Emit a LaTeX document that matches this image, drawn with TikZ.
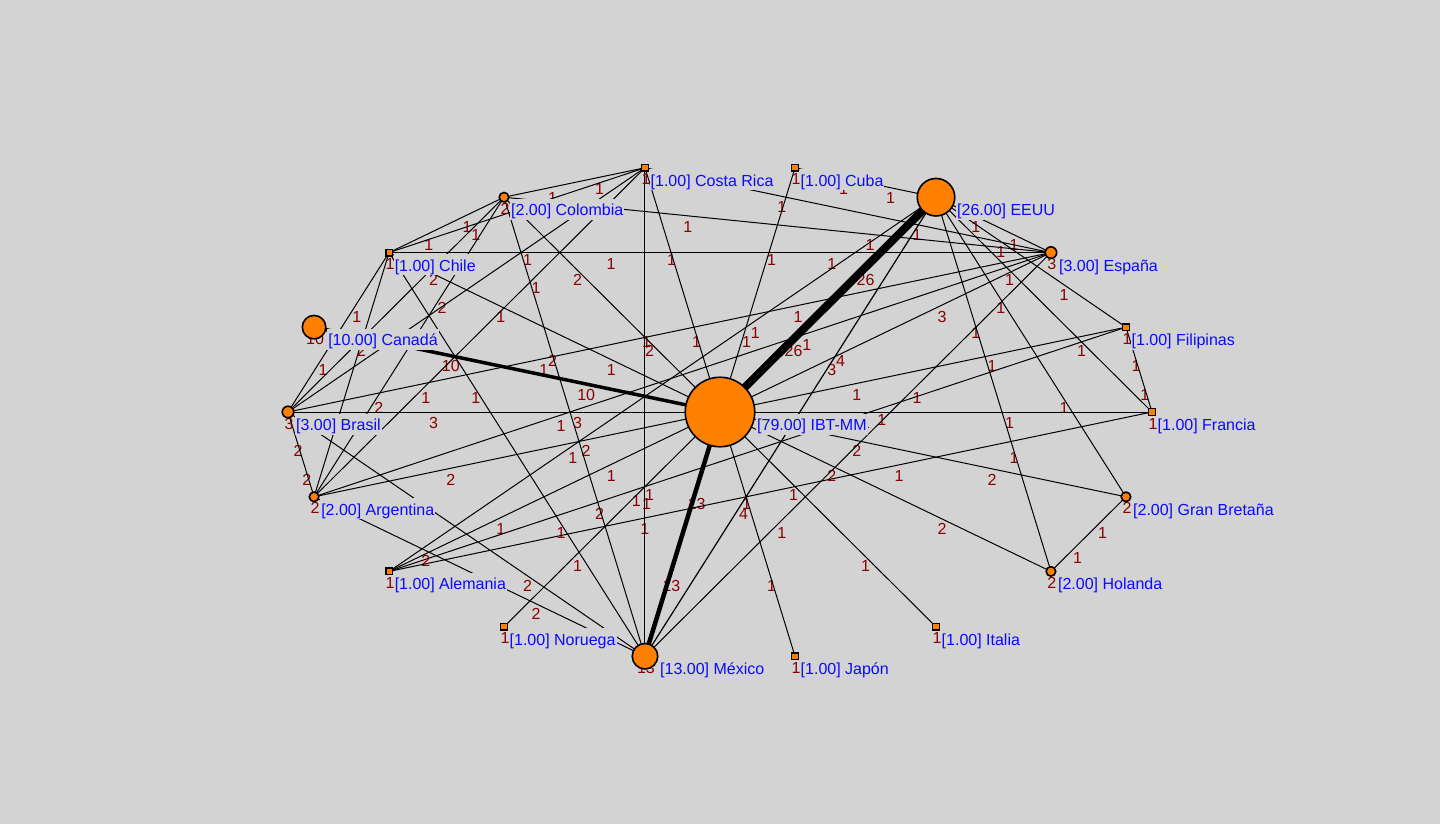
\documentclass[tikz,border=0pt]{standalone}
\usepackage{fontspec}
\setmainfont{Liberation Sans}
\usetikzlibrary{calc}
\definecolor{bg}{RGB}{211,211,211}
\definecolor{nodeorange}{RGB}{255,128,0}
\definecolor{valred}{RGB}{140,0,0}
\definecolor{labblue}{RGB}{10,10,255}
\newcommand{\labfont}{\fontsize{16}{19}\selectfont}
\tikzset{
  elab/.style={text=valred, font=\labfont, anchor=base, inner sep=0pt},
  vlab/.style={text=valred, font=\labfont, anchor=base, inner sep=0pt},
  nlab/.style={text=labblue, fill=bg, font=\labfont, anchor=base west, inner xsep=1pt, inner ysep=1pt, text height=16pt, text depth=3pt},
  edgeline/.style={draw=black, line cap=butt},
  bignode/.style={circle, draw=black, line width=1.6pt, fill=nodeorange, inner sep=0pt},
  smallnode/.style={rectangle, draw=black, line width=1.4pt, fill=nodeorange, inner sep=0pt},
}
\def\edgelist{IBT/EEUU/26/8, IBT/Mex/13/4.5, IBT/Can/10/3.5, IBT/Bra/3/1, IBT/Fra/1/1, IBT/Esp/3/1, IBT/Col/2/1, IBT/CR/1/1, IBT/Cuba/1/1, IBT/Chile/1/1, IBT/Arg/2/1, IBT/Ale/1/1, IBT/Nor/1/1, IBT/Jap/1/1, IBT/Ita/1/1, IBT/Hol/2/1, IBT/GB/2/1, IBT/Fil/1/1, EEUU/Esp/1/1, EEUU/Mex/4/1.2, EEUU/Ale/1/1, EEUU/Cuba/1/1, EEUU/Fil/1/1, EEUU/Fra/1/1, EEUU/Hol/1/1, EEUU/GB/1/1, CR/Col/1/1, CR/Chile/1/1, CR/Bra/1/1, CR/Arg/1/1, CR/Mex/1/1, CR/Esp/1/1, Col/Chile/1/1, Col/Bra/2/1, Col/Arg/2/1, Col/Mex/2/1, Col/Esp/1/1, Chile/Esp/1/1, Chile/Bra/1/1, Chile/Arg/1/1, Chile/Mex/1/1, Bra/Arg/2/1, Bra/Esp/1/1, Bra/Mex/2/1, Arg/Esp/1/1, Arg/Mex/2/1, Ale/Fil/1/1, Ale/Fra/1/1, Fil/Fra/1/1, GB/Hol/1/1, Esp/Mex/1/1}
\begin{document}
\begin{tikzpicture}[x=1pt,y=-1pt]
\fill[bg] (0,0) rectangle (1440,824);
\useasboundingbox (0,0) rectangle (1440,824);
% vertex positions on an ellipse around the centre
\coordinate (IBT) at (720,412);
\foreach \n/\a in {Fra/0,Fil/20,Esp/40,EEUU/60,Cuba/80,CR/100,Col/120,Chile/140,Can/160,Bra/180,Arg/200,Ale/220,Nor/240,Mex/260,Jap/280,Ita/300,Hol/320,GB/340}
  \coordinate (\n) at ({720+432*cos(\a)},{412-248*sin(\a)});
% edge values (drawn below the lines)
\foreach \a/\b/\v/\w in \edgelist {
  \node[elab] at ($(\a)!1/3!(\b)+(1.5,16.5)$) {\v};
  \node[elab] at ($(\a)!2/3!(\b)+(1.5,16.5)$) {\v};
}
% edges
\foreach \a/\b/\v/\w in \edgelist {
  \draw[edgeline, line width=\w pt] (\a) -- (\b);
}
% vertices: value, marker, name label
\foreach \n/\r/\v/\s/\t in {
  IBT/35.5/79/bignode/{[79.00] IBT-MM},
  EEUU/19.5/26/bignode/{[26.00] EEUU},
  Mex/13.5/13/bignode/{[13.00] México},
  Can/12.5/10/bignode/{[10.00] Canadá},
  Bra/6.5/3/bignode/{[3.00] Brasil},
  Esp/6.5/3/bignode/{[3.00] España},
  Col/5.5/2/bignode/{[2.00] Colombia},
  Arg/5.5/2/bignode/{[2.00] Argentina},
  Hol/5.5/2/bignode/{[2.00] Holanda},
  GB/5.5/2/bignode/{[2.00] Gran Bretaña},
  CR/4/1/smallnode/{[1.00] Costa Rica},
  Cuba/4/1/smallnode/{[1.00] Cuba},
  Chile/4/1/smallnode/{[1.00] Chile},
  Fil/4/1/smallnode/{[1.00] Filipinas},
  Fra/4/1/smallnode/{[1.00] Francia},
  Ita/4/1/smallnode/{[1.00] Italia},
  Jap/4/1/smallnode/{[1.00] Japón},
  Nor/4/1/smallnode/{[1.00] Noruega},
  Ale/4/1/smallnode/{[1.00] Alemania}} {
  \node[vlab] (\n-v) at ($(\n)+(1,17)$) {\v};
  \node[\s, minimum size={2*\r-1.5}] (\n-s) at (\n) {};
  \node[nlab] (\n-l) at ($(\n)+(\r+0.5,18.5)$) {\t};
}
\end{tikzpicture}
\end{document}
